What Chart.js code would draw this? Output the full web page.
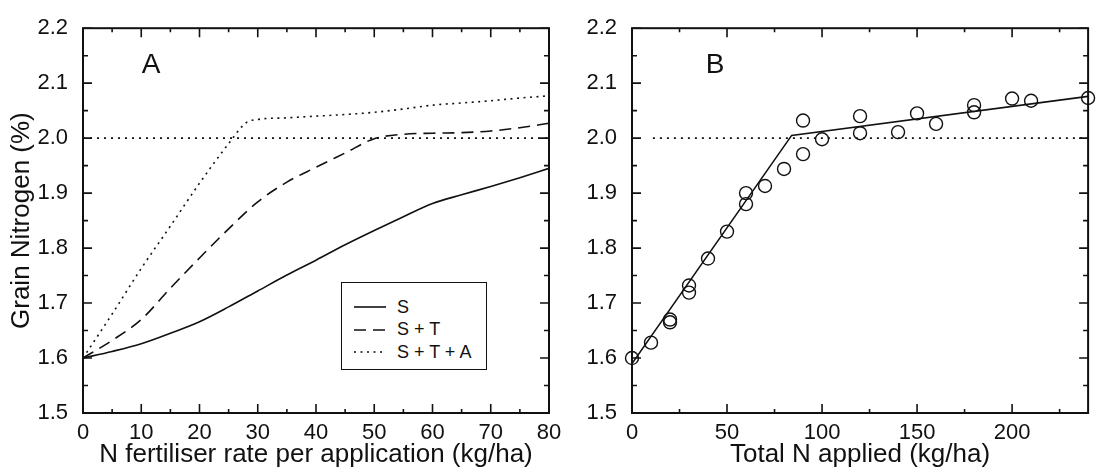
<!DOCTYPE html>
<html>
<head>
<meta charset="utf-8">
<script src="https://cdn.jsdelivr.net/npm/chart.js@4.4.1/dist/chart.umd.min.js"></script>
<style>
  body { margin: 0; width: 1096px; height: 470px; background: #fff; position: relative; overflow: hidden;
         font-family: "Liberation Sans", Arial, Helvetica, sans-serif; color: #111; }
  canvas { position: absolute; top: 0; }
  #ca { left: 0; }
  #cb { left: 548px; }
  .panel { position: absolute; font-size: 28px; line-height: 1; transform: translate(-50%, -50%); }
  #legend { position: absolute; left: 341px; top: 282px; width: 146px; height: 88px;
            border: 1.5px solid #111; box-sizing: border-box; background: #fff; }
  .row { position: absolute; left: 12px; height: 22px; display: flex; align-items: center; font-size: 18px; }
  .row svg { margin-right: 11px; }
</style>
</head>
<body>
<canvas id="ca" width="575" height="470"></canvas>
<canvas id="cb" width="548" height="470"></canvas>
<div class="panel" style="left:151px;top:64px">A</div>
<div class="panel" style="left:715px;top:64px">B</div>
<div id="legend"></div>

<script>
// Panel A: N fertiliser rate per application vs grain N
const aRate = [0, 5, 10, 15, 20, 25, 30, 35, 40, 45, 50, 55, 60, 65, 70, 75, 80];
const aS    = [1.600, 1.612, 1.626, 1.645, 1.666, 1.693, 1.722, 1.751, 1.778, 1.806, 1.832, 1.857, 1.881, 1.897, 1.912, 1.928, 1.945];
const aST   = [1.600, 1.632, 1.670, 1.727, 1.782, 1.835, 1.884, 1.920, 1.947, 1.973, 1.999, 2.007, 2.009, 2.010, 2.013, 2.019, 2.027];
const aRateSTA = [0, 5, 10, 15, 20, 25, 28, 30, 35, 40, 45, 50, 55, 60, 65, 70, 75, 80];
const aSTA  = [1.600, 1.680, 1.763, 1.840, 1.918, 1.990, 2.028, 2.034, 2.037, 2.040, 2.043, 2.047, 2.053, 2.060, 2.064, 2.068, 2.073, 2.077];
const aNames = ['S', 'S + T', 'S + T + A'];

// Panel B: total N applied vs grain N (observations + broken-stick fit)
const bApplied = [0, 10, 20, 20, 30, 30, 40, 50, 60, 60, 70, 80, 90, 90, 100, 120, 120, 140, 150, 160, 180, 180, 200, 210, 240];
const bGrainN  = [1.600, 1.628, 1.670, 1.665, 1.732, 1.719, 1.781, 1.830, 1.900, 1.880, 1.913, 1.944, 1.971, 2.032, 1.998,
                  2.040, 2.009, 2.011, 2.045, 2.026, 2.060, 2.047, 2.072, 2.068, 2.073];
const bFitX = [0, 84, 240];
const bFitY = [1.59, 2.005, 2.076];

// reference level
const threshold = 2.0;
const bRefStart = 11;

// ticks
const yMajor  = [1.5, 1.6, 1.7, 1.8, 1.9, 2.0, 2.1, 2.2];
const yMinor  = [1.55, 1.65, 1.75, 1.85, 1.95, 2.05, 2.15];
const aXMajor = [0, 10, 20, 30, 40, 50, 60, 70, 80];
const aXMinor = [5, 15, 25, 35, 45, 55, 65, 75];
const bXMajor = [0, 50, 100, 150, 200];
const bXMinor = [25, 75, 125, 175, 225];

const ink = '#111';
Chart.defaults.font.family = '"Liberation Sans", Arial, Helvetica, sans-serif';
Chart.defaults.color = ink;

const pts = (xs, ys) => xs.map((x, i) => ({ x, y: ys[i] }));

function setTicks(major, minor) {
  return scale => {
    scale.ticks = major.concat(minor).sort((p, q) => p - q).map(v => ({ value: v }));
  };
}

// inward tick marks on all four sides plus the frame
const frameTicks = {
  id: 'frameTicks',
  afterDatasetsDraw(chart) {
    const { ctx, chartArea: a, scales: { x, y } } = chart;
    ctx.save();
    ctx.strokeStyle = ink;
    ctx.lineWidth = 1.6;
    ctx.beginPath();
    x.ticks.forEach(t => {
      const len = t.label ? 9 : 4;
      const p = x.getPixelForValue(t.value);
      ctx.moveTo(p, a.bottom); ctx.lineTo(p, a.bottom - len);
      ctx.moveTo(p, a.top);    ctx.lineTo(p, a.top + len);
    });
    y.ticks.forEach(t => {
      const len = t.label ? 9 : 5;
      const p = y.getPixelForValue(t.value);
      ctx.moveTo(a.left, p);  ctx.lineTo(a.left + len, p);
      ctx.moveTo(a.right, p); ctx.lineTo(a.right - len, p);
    });
    ctx.stroke();
    ctx.lineWidth = 2;
    ctx.strokeRect(a.left, a.top, a.right - a.left, a.bottom - a.top);
    ctx.restore();
  }
};

function xAxis(max, major, minor, title) {
  return {
    type: 'linear', min: 0, max,
    afterBuildTicks: setTicks(major, minor),
    afterFit: s => { s.height = 57; s.paddingLeft = 0; s.paddingRight = 0; },
    grid: { display: false, drawTicks: false },
    border: { display: false },
    ticks: { autoSkip: false, maxRotation: 0, padding: 7, color: ink, font: { size: 22 },
             callback: v => major.includes(v) ? String(v) : '' },
    title: { display: true, text: title, color: ink, font: { size: 26 }, padding: { top: 0, bottom: 0 } }
  };
}

function yAxis(width, title) {
  return {
    type: 'linear', min: 1.5, max: 2.2,
    afterBuildTicks: setTicks(yMajor, yMinor),
    afterFit: s => { s.width = width; },
    grid: { display: false, drawTicks: false },
    border: { display: false },
    ticks: { autoSkip: false, padding: 15, color: ink, font: { size: 22 },
             callback: v => yMajor.includes(v) ? v.toFixed(1) : '' },
    title: { display: !!title, text: title || '', color: ink, font: { size: 26 }, padding: { top: 6, bottom: 0 } }
  };
}

const baseOpts = {
  responsive: false,
  animation: false,
  devicePixelRatio: 1,
  plugins: { legend: { display: false }, tooltip: { enabled: false } }
};

const chartA = new Chart(document.getElementById('ca'), {
  type: 'line',
  data: {
    datasets: [
      { label: aNames[0], data: pts(aRate, aS), borderColor: ink, borderWidth: 1.6, pointRadius: 0,
        cubicInterpolationMode: 'monotone', borderDash: [] },
      { label: aNames[1], data: pts(aRate, aST), borderColor: ink, borderWidth: 1.6, pointRadius: 0,
        cubicInterpolationMode: 'monotone', borderDash: [12, 7] },
      { label: aNames[2], data: pts(aRateSTA, aSTA), borderColor: ink, borderWidth: 1.6, pointRadius: 0,
        cubicInterpolationMode: 'monotone', borderDash: [2, 4.5] },
      { label: 'ref', data: pts([0, 80], [threshold, threshold]), borderColor: ink, borderWidth: 1.6,
        pointRadius: 0, borderDash: [2, 5] }
    ]
  },
  options: {
    ...baseOpts,
    layout: { padding: { top: 17, right: 26, left: 0, bottom: 0 } },
    scales: {
      x: xAxis(80, aXMajor, aXMinor, 'N fertiliser rate per application (kg/ha)'),
      y: yAxis(83, 'Grain Nitrogen (%)')
    }
  },
  plugins: [frameTicks]
});

new Chart(document.getElementById('cb'), {
  type: 'scatter',
  data: {
    datasets: [
      { label: 'observed', data: pts(bApplied, bGrainN), showLine: false, clip: false,
        pointRadius: 6.5, pointBorderWidth: 1.4, pointBorderColor: ink, pointBackgroundColor: 'rgba(0,0,0,0)' },
      { label: 'fit', data: pts(bFitX, bFitY), showLine: true, borderColor: ink, borderWidth: 1.6, pointRadius: 0 },
      { label: 'ref', data: pts([bRefStart, 240], [threshold, threshold]), showLine: true, borderColor: ink,
        borderWidth: 1.6, pointRadius: 0, borderDash: [2, 5] }
    ]
  },
  options: {
    ...baseOpts,
    layout: { padding: { top: 17, right: 4, left: 0, bottom: 0 } },
    scales: {
      x: xAxis(240, bXMajor, bXMinor, 'Total N applied (kg/ha)'),
      y: yAxis(84, '')
    }
  },
  plugins: [frameTicks]
});

// legend for panel A, built from its first three datasets
const legend = document.getElementById('legend');
const rowCentres = [24, 46.5, 69];
chartA.data.datasets.slice(0, 3).forEach((ds, i) => {
  const row = document.createElement('div');
  row.className = 'row';
  row.style.top = (rowCentres[i] - 11) + 'px';
  const dash = ds.borderDash.length ? ds.borderDash.join(' ') : 'none';
  row.innerHTML = '<svg width="32" height="6"><line x1="0" y1="3" x2="32" y2="3" stroke="' + ink +
    '" stroke-width="1.6" stroke-dasharray="' + dash + '"/></svg><span>' + ds.label + '</span>';
  legend.appendChild(row);
});
</script>
</body>
</html>
